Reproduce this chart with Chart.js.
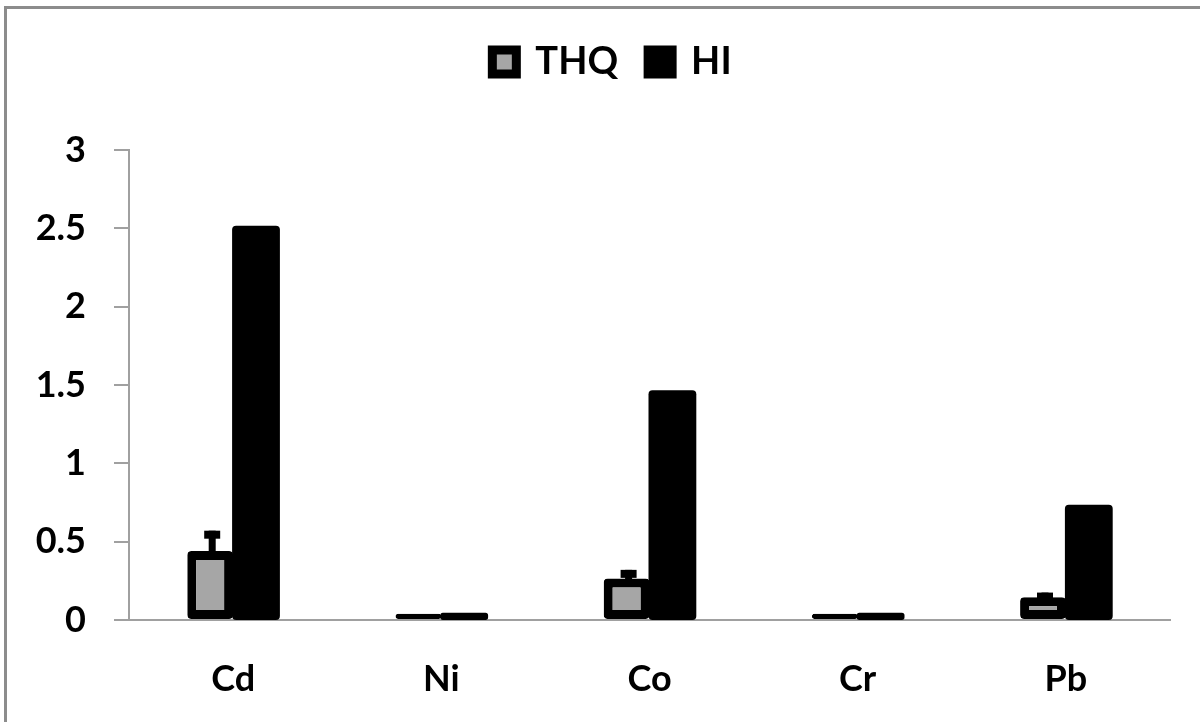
<!DOCTYPE html>
<html>
<head>
<meta charset="utf-8">
<script src="https://cdn.jsdelivr.net/npm/chart.js@4.4.1/dist/chart.umd.min.js"></script>
<style>
html,body{margin:0;padding:0;background:#fff;}
#wrap{width:1200px;height:722px;position:relative;}
</style>
</head>
<body>
<div id="wrap"><canvas id="c" width="1200" height="722"></canvas></div>
<script>
const categories = ['Cd', 'Ni', 'Co', 'Cr', 'Pb'];
const thqValues = [0.44, 0.04, 0.265, 0.04, 0.145];
const thqErrorTop = [0.57, null, 0.32, null, 0.175];
const hiValues = [2.51, 0.04, 1.46, 0.04, 0.73];
const yTicks = [0, 0.5, 1, 1.5, 2, 2.5, 3];

const FONT = 'Lato, "Open Sans", sans-serif';
const AXIS = '#a0a0a0';
const LEGEND_EXTRA = 59;
const LEGEND_SHIFT = 17;

const framePlugin = {
  id: 'frame',
  beforeLayout(chart) {
    const lg = chart.legend;
    if (lg && !lg._patched) {
      lg._patched = true;
      const origFit = lg.fit;
      lg.fit = function () { origFit.call(this); this.height += LEGEND_EXTRA; };
    }
  },
  afterLayout(chart) {
    const lg = chart.legend;
    if (lg) { lg.left += LEGEND_SHIFT; lg.right += LEGEND_SHIFT; }
  },
  beforeDraw(chart) {
    const ctx = chart.ctx;
    ctx.save();
    ctx.fillStyle = '#fff';
    ctx.fillRect(0, 0, chart.width, chart.height);
    ctx.fillStyle = '#8c8c8c';
    ctx.fillRect(4, 6, 1196, 3);
    ctx.fillRect(4, 6, 3, 716);
    ctx.restore();
  }
};

const errorPlugin = {
  id: 'errbars',
  afterDatasetsDraw(chart) {
    const ctx = chart.ctx;
    const meta = chart.getDatasetMeta(0);
    const y = chart.scales.y;
    ctx.save();
    ctx.fillStyle = '#000';
    meta.data.forEach((bar, i) => {
      const v = thqErrorTop[i];
      if (v == null) return;
      const top = y.getPixelForValue(v);
      const barTop = bar.y;
      const cx = bar.x + 2;
      ctx.fillRect(cx - 3.5, top, 7, barTop - top + 1);
      ctx.fillRect(cx - 8, top, 16, 8);
    });
    ctx.restore();
  }
};

new Chart(document.getElementById('c'), {
  type: 'bar',
  data: {
    labels: categories,
    datasets: [
      {
        label: 'THQ',
        data: thqValues,
        backgroundColor: '#a6a6a6',
        borderColor: '#000',
        borderWidth: 9,
        borderSkipped: false,
        borderRadius: 4,
        categoryPercentage: 0.44,
        barPercentage: 1.0
      },
      {
        label: 'HI',
        data: hiValues,
        backgroundColor: '#000',
        borderColor: '#000',
        borderWidth: 0,
        borderSkipped: false,
        borderRadius: 4,
        inflateAmount: 1,
        categoryPercentage: 0.44,
        barPercentage: 1.0
      }
    ]
  },
  options: {
    responsive: false,
    animation: false,
    devicePixelRatio: 1,
    layout: { padding: { left: 20, right: 30, top: 13, bottom: 0 } },
    plugins: {
      legend: {
        position: 'top',
        labels: {
          color: '#000',
          font: { family: FONT, size: 38, weight: 'bold' },
          boxWidth: 24,
          boxHeight: 24,
          padding: 30,
          generateLabels(chart) {
            const items = Chart.defaults.plugins.legend.labels.generateLabels(chart);
            items.forEach(it => { it.lineWidth = 9; it.strokeStyle = '#000'; });
            return items;
          }
        }
      },
      tooltip: { enabled: false }
    },
    scales: {
      x: {
        grid: { display: false, drawTicks: false },
        border: { display: true, color: AXIS, width: 2 },
        ticks: {
          color: '#000',
          font: { family: FONT, size: 36, weight: 'bold' },
          padding: 38
        },
        afterFit(s) { s.height = 102; }
      },
      y: {
        min: 0,
        max: 3,
        afterBuildTicks(s) { s.ticks = yTicks.map(v => ({ value: v })); },
        grid: { display: true, drawOnChartArea: false, drawTicks: true, tickLength: 15, color: AXIS, lineWidth: 2 },
        border: { display: true, color: AXIS, width: 2 },
        ticks: {
          color: '#000',
          font: { family: FONT, size: 36, weight: 'bold' },
          padding: 28,
          callback: (v) => String(v)
        },
        afterFit(s) { s.width = 109; }
      }
    }
  },
  plugins: [framePlugin, errorPlugin]
});
</script>
</body>
</html>
